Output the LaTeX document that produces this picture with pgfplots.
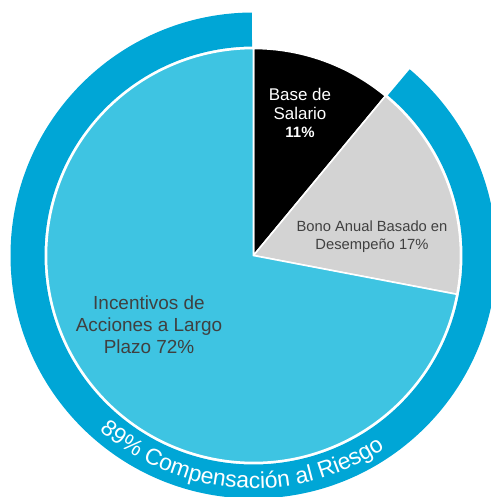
\documentclass[border=0pt]{standalone}
\usepackage{pgfplots}
\pgfplotsset{compat=1.18}
\usepackage{pgfplotstable}
\usepackage{fontspec}
\setmainfont{Liberation Sans}
\usetikzlibrary{decorations.text}
\definecolor{ringblue}{RGB}{0,166,214}
\definecolor{lightblue}{RGB}{62,196,226}
\definecolor{slicegray}{RGB}{211,211,211}
\definecolor{txtgray}{RGB}{64,64,64}

\pgfplotstableread{
label pct
Base 11
Bono 17
LTI 72
}\piedata

\begin{document}
\begin{tikzpicture}
\pgfplotstablegetelem{0}{pct}\of\piedata \let\pa\pgfplotsretval
\pgfplotstablegetelem{1}{pct}\of\piedata \let\pb\pgfplotsretval
\pgfplotstablegetelem{2}{pct}\of\piedata \let\pc\pgfplotsretval
\pgfmathsetmacro{\aA}{90-3.6*\pa}
\pgfmathsetmacro{\aB}{\aA-3.6*\pb}
\pgfmathsetmacro{\aC}{\aB-3.6*\pc}
\pgfmathsetmacro{\rEnd}{90+3.6*(\pb+\pc)-0.4}
\pgfmathsetmacro{\rBack}{\rEnd-180}
\begin{axis}[width=491bp,height=497bp,scale only axis,
  xmin=0,xmax=491,ymin=0,ymax=497,axis lines=none,ticks=none]
% outer ring: at-risk share
\fill[ringblue] (axis cs:253.5,241.5) ++(90.4:243bp) arc[start angle=90.4,end angle=\rEnd,radius=243bp]
  -- ++(\rBack:34bp) arc[start angle=\rEnd,end angle=90.4,radius=209bp] -- cycle;
% pie slices
\fill[black,draw=white,line width=1.6bp] (axis cs:253.5,241.5) -- ++(90:207bp) arc[start angle=90,end angle=\aA,radius=207bp] -- cycle;
\fill[slicegray,draw=white,line width=1.6bp] (axis cs:253.5,241.5) -- ++(\aA:207bp) arc[start angle=\aA,end angle=\aB,radius=207bp] -- cycle;
\fill[lightblue,draw=white,line width=1.6bp] (axis cs:253.5,241.5) -- ++(\aB:207bp) arc[start angle=\aB,end angle=\aC,radius=207bp] -- cycle;
% labels
\node[align=center,text=white,font=\fontsize{17}{18.5}\selectfont] at (axis cs:300,384) {Base de\\Salario\\{\bfseries\fontsize{15}{18.5}\selectfont 11\%}};
\node[align=center,text=txtgray,font=\fontsize{14.8}{18}\selectfont] at (axis cs:372,260) {Bono Anual Basado en\\Desempeño 17\%};
\node[align=center,text=txtgray,font=\fontsize{19}{22}\selectfont] at (axis cs:149,172) {Incentivos de\\Acciones a Largo\\Plazo 72\%};
\coordinate (C) at (axis cs:253.5,241.5);
\coordinate (LL) at (axis cs:0,0);
\coordinate (UR) at (axis cs:491,497);
\end{axis}
% curved ring label
{\fontsize{23}{23}\selectfont
\path[decorate,decoration={text along path,text align=center,text color=white,
  text={89{\%} Compensación al Riesgo}}]
  (C) ++(222:233bp) arc[start angle=222,end angle=311,radius=233bp];}
\pgfresetboundingbox
\useasboundingbox (LL) rectangle (UR);
\end{tikzpicture}
\end{document}
